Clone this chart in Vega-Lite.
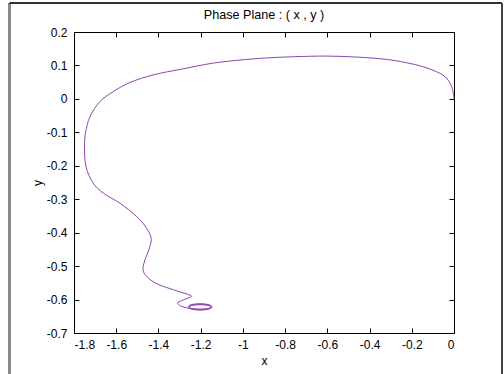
{
  "$schema": "https://vega.github.io/schema/vega-lite/v6.json",
  "width": 380,
  "height": 301,
  "autosize": {"type": "none"},
  "padding": {"left": 74, "top": 32, "right": 50, "bottom": 41},
  "background": "white",
  "title": {
    "text": "Phase Plane : ( x , y )",
    "font": "Liberation Sans",
    "fontSize": 12.6,
    "fontWeight": "normal",
    "color": "black",
    "anchor": "middle",
    "frame": "group",
    "offset": -20
  },
  "config": {
    "view": {"stroke": "black", "strokeWidth": 1},
    "axis": {
      "labelFont": "Liberation Sans",
      "labelFontSize": 12,
      "labelColor": "black",
      "titleFont": "Liberation Sans",
      "titleFontSize": 12,
      "titleFontWeight": "normal",
      "titleColor": "black",
      "tickColor": "black",
      "tickSize": -5,
      "grid": false,
      "domain": false
    }
  },
  "data": {
    "values": [
      {"t": 0, "x": 0.0, "y": 0.0},
      {"t": 1, "x": -0.004, "y": 0.02},
      {"t": 2, "x": -0.011, "y": 0.036},
      {"t": 3, "x": -0.019, "y": 0.047},
      {"t": 4, "x": -0.035, "y": 0.062},
      {"t": 5, "x": -0.06, "y": 0.074},
      {"t": 6, "x": -0.082, "y": 0.081},
      {"t": 7, "x": -0.145, "y": 0.096},
      {"t": 8, "x": -0.224, "y": 0.108},
      {"t": 9, "x": -0.319, "y": 0.118},
      {"t": 10, "x": -0.461, "y": 0.125},
      {"t": 11, "x": -0.603, "y": 0.128},
      {"t": 12, "x": -0.761, "y": 0.126},
      {"t": 13, "x": -0.872, "y": 0.123},
      {"t": 14, "x": -0.982, "y": 0.118},
      {"t": 15, "x": -1.14, "y": 0.107},
      {"t": 16, "x": -1.298, "y": 0.088},
      {"t": 17, "x": -1.424, "y": 0.072},
      {"t": 18, "x": -1.535, "y": 0.049},
      {"t": 19, "x": -1.614, "y": 0.022},
      {"t": 20, "x": -1.677, "y": -0.008},
      {"t": 21, "x": -1.724, "y": -0.053},
      {"t": 22, "x": -1.745, "y": -0.1},
      {"t": 23, "x": -1.75, "y": -0.14},
      {"t": 24, "x": -1.743, "y": -0.203},
      {"t": 25, "x": -1.709, "y": -0.252},
      {"t": 26, "x": -1.661, "y": -0.282},
      {"t": 27, "x": -1.582, "y": -0.312},
      {"t": 28, "x": -1.503, "y": -0.352},
      {"t": 29, "x": -1.458, "y": -0.385},
      {"t": 30, "x": -1.434, "y": -0.418},
      {"t": 31, "x": -1.446, "y": -0.452},
      {"t": 32, "x": -1.468, "y": -0.49},
      {"t": 33, "x": -1.472, "y": -0.515},
      {"t": 34, "x": -1.44, "y": -0.54},
      {"t": 35, "x": -1.4, "y": -0.555},
      {"t": 36, "x": -1.361, "y": -0.564},
      {"t": 37, "x": -1.298, "y": -0.577},
      {"t": 38, "x": -1.262, "y": -0.584},
      {"t": 39, "x": -1.243, "y": -0.59},
      {"t": 40, "x": -1.27, "y": -0.598},
      {"t": 41, "x": -1.29, "y": -0.603},
      {"t": 42, "x": -1.31, "y": -0.611},
      {"t": 43, "x": -1.295, "y": -0.619},
      {"t": 44, "x": -1.27, "y": -0.624},
      {"t": 45, "x": -1.252, "y": -0.627},
      {"t": 46, "x": -1.2315, "y": -0.6302},
      {"t": 47, "x": -1.203, "y": -0.6315},
      {"t": 48, "x": -1.1745, "y": -0.6302},
      {"t": 49, "x": -1.1536, "y": -0.6268},
      {"t": 50, "x": -1.146, "y": -0.622},
      {"t": 51, "x": -1.1536, "y": -0.6172},
      {"t": 52, "x": -1.1745, "y": -0.6138},
      {"t": 53, "x": -1.203, "y": -0.6125},
      {"t": 54, "x": -1.2315, "y": -0.6138},
      {"t": 55, "x": -1.2524, "y": -0.6172},
      {"t": 56, "x": -1.258, "y": -0.622},
      {"t": 57, "x": -1.2506, "y": -0.626},
      {"t": 58, "x": -1.2305, "y": -0.6289},
      {"t": 59, "x": -1.203, "y": -0.63},
      {"t": 60, "x": -1.1755, "y": -0.6289},
      {"t": 61, "x": -1.1554, "y": -0.626},
      {"t": 62, "x": -1.148, "y": -0.622},
      {"t": 63, "x": -1.1554, "y": -0.618},
      {"t": 64, "x": -1.1755, "y": -0.6151},
      {"t": 65, "x": -1.203, "y": -0.614},
      {"t": 66, "x": -1.2305, "y": -0.6151},
      {"t": 67, "x": -1.2506, "y": -0.618},
      {"t": 68, "x": -1.256, "y": -0.622},
      {"t": 69, "x": -1.2489, "y": -0.6253},
      {"t": 70, "x": -1.2295, "y": -0.6276},
      {"t": 71, "x": -1.203, "y": -0.6285},
      {"t": 72, "x": -1.1765, "y": -0.6276},
      {"t": 73, "x": -1.1571, "y": -0.6253},
      {"t": 74, "x": -1.15, "y": -0.622},
      {"t": 75, "x": -1.1571, "y": -0.6188},
      {"t": 76, "x": -1.1765, "y": -0.6164},
      {"t": 77, "x": -1.203, "y": -0.6155},
      {"t": 78, "x": -1.2295, "y": -0.6164},
      {"t": 79, "x": -1.2489, "y": -0.6188},
      {"t": 80, "x": -1.256, "y": -0.622}
    ]
  },
  "layer": [
    {
      "mark": {"type": "line", "color": "#8e44ad", "strokeWidth": 1, "interpolate": "catmull-rom"},
      "encoding": {
        "x": {
          "field": "x", "type": "quantitative",
          "scale": {"domain": [-1.8, 0], "nice": false, "zero": false},
          "axis": {
            "orient": "bottom", "title": "x",
            "values": [-1.8, -1.6, -1.4, -1.2, -1, -0.8, -0.6, -0.4, -0.2, 0],
            "labelExpr": "toString(datum.value)",
            "labelPadding": 11, "titlePadding": 5
          }
        },
        "y": {
          "field": "y", "type": "quantitative",
          "scale": {"domain": [-0.7, 0.2], "nice": false, "zero": false},
          "axis": {
            "orient": "left", "title": "y",
            "values": [-0.7, -0.6, -0.5, -0.4, -0.3, -0.2, -0.1, 0, 0.1, 0.2],
            "labelExpr": "toString(datum.value)",
            "labelPadding": 12, "titlePadding": 2
          }
        },
        "order": {"field": "t", "type": "quantitative"}
      }
    },
    {
      "mark": {"type": "point", "opacity": 0},
      "encoding": {
        "x": {
          "field": "x", "type": "quantitative",
          "axis": {
            "orient": "top", "title": null, "labels": false,
            "values": [-1.8, -1.6, -1.4, -1.2, -1, -0.8, -0.6, -0.4, -0.2, 0]
          }
        },
        "y": {
          "field": "y", "type": "quantitative",
          "axis": {
            "orient": "right", "title": null, "labels": false,
            "values": [-0.7, -0.6, -0.5, -0.4, -0.3, -0.2, -0.1, 0, 0.1, 0.2]
          }
        }
      }
    },
    {
      "mark": {"type": "rule", "clip": false, "color": "#8a8a8a", "strokeWidth": 3},
      "encoding": {
        "x": {"datum": -2.1055, "type": "quantitative", "axis": null},
        "y": {"datum": 0.2867, "type": "quantitative", "axis": null},
        "y2": {"datum": -0.9}
      }
    },
    {
      "mark": {"type": "rule", "clip": false, "color": "#333333", "strokeWidth": 1},
      "encoding": {
        "x": {"datum": -2.1032, "type": "quantitative", "axis": null},
        "x2": {"datum": 0.2274},
        "y": {"datum": 0.2867, "type": "quantitative", "axis": null}
      }
    },
    {
      "mark": {"type": "rule", "clip": false, "color": "#444444", "strokeWidth": 1},
      "encoding": {
        "x": {"datum": 0.2274, "type": "quantitative", "axis": null},
        "y": {"datum": 0.2867, "type": "quantitative", "axis": null},
        "y2": {"datum": -0.9}
      }
    }
  ],
  "resolve": {"axis": {"x": "independent", "y": "independent"}}
}
